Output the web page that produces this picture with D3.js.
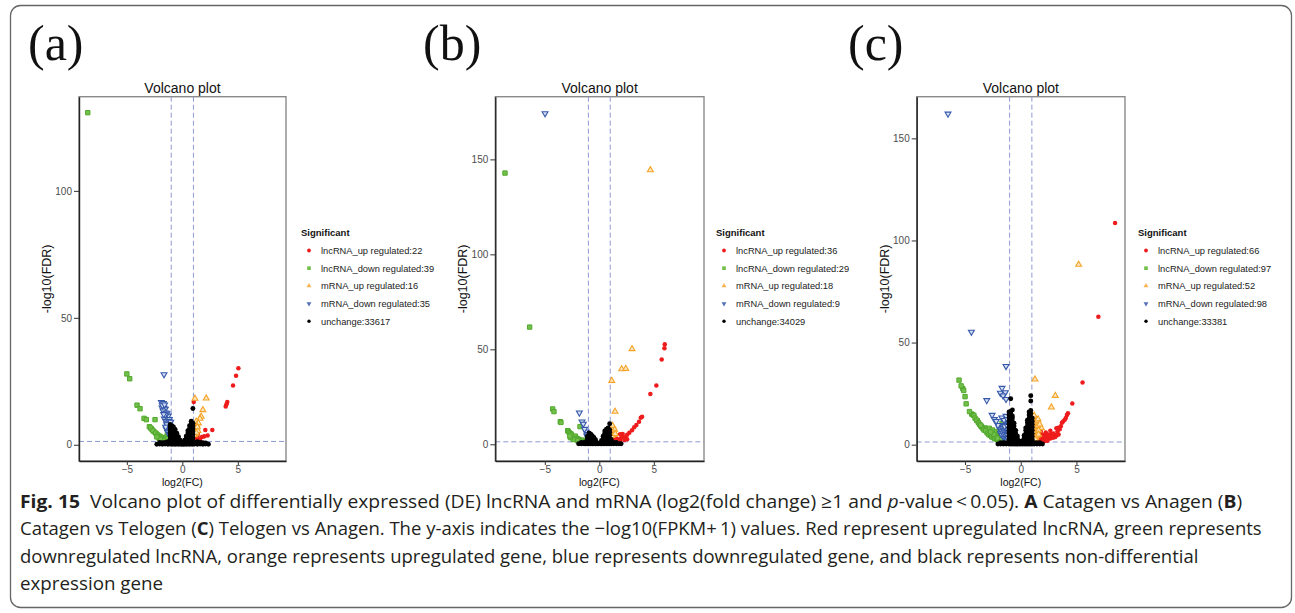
<!DOCTYPE html>
<html>
<head>
<meta charset="utf-8">
<script src="https://cdn.jsdelivr.net/npm/d3@7"></script>
<style>
  body { margin: 0; background: #fff; }
  svg { display: block; }
  text { font-family: "Liberation Sans", Arial, sans-serif; }
</style>
</head>
<body>
<div class="chart"></div>
<script>
// ---- data ----
var categories = ["lncRNA_up regulated", "lncRNA_down regulated", "mRNA_up regulated", "mRNA_down regulated", "unchange"];
var panelLetters = ["(a)", "(b)", "(c)"];
var countsA = [22, 39, 16, 35, 33617];
var countsB = [36, 29, 18, 9, 34029];
var countsC = [66, 97, 52, 98, 33381];

var xTicks = [-5, 0, 5];
var yTicksA = [0, 50, 100];
var yTicksB = [0, 50, 100, 150];
var yTicksC = [0, 50, 100, 150];
var xDomainA = [-9.31, 9.34], yDomainA = [-6.4, 137.1];
var xDomainB = [-9.54, 9.6], yDomainB = [-8.8, 183];
var xDomainC = [-9.34, 9.36], yDomainC = [-8.0, 170.4];
var fcCut = [-1, 1];
var fdrCut = 1.3;

// panel A (Catagen vs Anagen)
var aUp = [[5.05,30.1],[4.84,27.2],[4.57,23.3],[4.05,16.8],[3.91,15.1],[3.98,16.0],[1.03,16.8],[1.12,8.2],[2.70,5.8],[2.07,5.8],[2.28,3.6],[1.98,3.3],[1.77,3.1],[1.29,3.2],[1.5,2.5],[1.2,2.0],[1.1,4.5],[1.6,1.8],[1.35,1.6],[1.15,3.0],[1.4,4.0],[1.05,1.8]];
var aDown = [[-8.52,130.8],[-5.0,27.9],[-4.74,26.0],[-4.08,15.6],[-3.81,14.2],[-3.45,10.4],[-3.24,9.9],[-2.46,9.9],[-2.97,7.1],[-2.76,6.2],[-2.55,5.1],[-2.31,4.2],[-2.07,3.4],[-1.83,2.8],[-1.56,2.3],[-1.41,6.4],[-1.4,2.0],[-2.85,6.6],[-2.65,5.6],[-2.4,4.6],[-2.2,3.8],[-1.95,3.1],[-1.7,2.5],[-1.5,1.8],[-1.3,1.6],[-1.2,2.2],[-1.1,1.6],[-1.6,1.6],[-1.9,2.0],[-2.1,2.6],[-1.25,3.2],[-1.15,2.8],[-1.35,4.0],[-1.45,3.0],[-1.75,1.7],[-2.0,2.2],[-2.3,3.1],[-1.05,2.4],[-1.3,2.5]];
var aMUp = [[1.14,18.2],[2.15,18.3],[1.85,13.7],[1.70,11.1],[1.59,10.3],[1.25,9.2],[1.3,7.8],[1.17,6.8],[1.3,6.0],[1.12,5.1],[1.2,4.4],[1.45,8.5],[1.4,5.5],[1.1,3.8],[1.25,4.8],[1.35,7.0]];
var aMDown = [[-1.65,27.7],[-1.89,16.7],[-1.71,16.3],[-1.83,14.6],[-1.65,14.5],[-1.53,14.1],[-1.74,13.4],[-1.50,12.6],[-1.62,10.2],[-1.41,11.0],[-1.26,11.4],[-1.47,9.3],[-1.32,8.7],[-1.17,10.0],[-1.14,8.2],[-1.05,7.1],[-1.23,5.8],[-1.35,7.5],[-1.2,6.8],[-1.1,5.5],[-1.45,6.2],[-1.3,4.8],[-1.15,4.2],[-1.05,3.5],[-1.38,12.3],[-1.55,11.8],[-1.68,12.0],[-1.8,15.5],[-1.6,15.8],[-1.2,9.3],[-1.1,6.3],[-1.25,7.2],[-1.4,8.0],[-1.05,9.0],[-1.5,7.0]];
// unchanged genes: dense mass, listed as [log2FC, [-log10FDR values at that log2FC]]
var aUnchange = [
  [-2.3,[0.2]],[-2.05,[0.3,0.9]],[-1.8,[0.2,0.8]],[-1.55,[0.3,0.9]],[-1.3,[0.2,0.8,1.2]],
  [-1.1,[0.3,1.0,2.2,3.4,4.6,5.8,7.0,8.0]],[-0.95,[0.2,1.5,2.7,3.9,5.1,6.3,7.5]],[-0.8,[0.3,1.0,2.2,3.4,4.6,5.8,7.0]],
  [-0.65,[0.2,1.5,2.7,3.9,5.1,6.0]],[-0.5,[0.3,1.0,2.2,3.4,4.5]],[-0.35,[0.2,1.2,2.4,3.2]],[-0.2,[0.3,0.8,1.8]],[-0.05,[0.2,0.6]],
  [0.1,[0.2,0.7]],[0.2,[0.3,0.8,1.8]],[0.35,[0.2,1.2,2.4,3.4]],[0.5,[0.3,1.0,2.2,3.4,4.6,5.5]],
  [0.65,[0.2,1.5,2.7,3.9,5.1,6.3,7.5]],[0.8,[0.3,1.0,2.2,3.4,4.6,5.8,7.0,8.2,9.3]],[0.95,[0.2,1.5,2.7,3.9,5.1,6.3,7.5,8.5,14.3]],
  [1.1,[0.3,0.9]],[1.35,[0.2,0.8,1.2]],[1.6,[0.3,0.9]],[1.85,[0.2,0.8]],[2.1,[0.3,0.7]],[2.35,[0.2]]
];

// panel B (Catagen vs Telogen)
var bUp = [[6.0,52.6],[5.97,50.5],[5.72,44.7],[5.23,31.0],[4.68,26.5],[3.92,14.5],[3.8,14.0],[3.64,11.9],[3.4,10.2],[3.2,9.0],[3.0,7.4],[2.75,6.1],[2.55,5.0],[2.36,3.7],[2.14,5.4],[1.9,5.3],[2.1,3.9],[1.95,3.0],[1.75,2.5],[1.55,3.0],[1.35,2.2],[1.2,3.2],[1.07,4.0],[1.14,7.5],[1.1,2.0],[1.3,4.5],[1.5,1.8],[1.7,1.6],[1.25,1.5],[1.45,4.0],[1.6,2.4],[2.3,2.2],[1.05,5.5],[1.15,6.0],[1.9,1.9],[2.55,2.6]];
var bDown = [[-8.65,142.8],[-6.39,61.7],[-4.28,18.6],[-4.16,17.2],[-3.58,11.9],[-3.52,11.5],[-2.9,7.2],[-2.85,6.8],[-2.75,6.1],[-2.6,5.5],[-2.53,4.9],[-2.32,3.7],[-2.2,4.3],[-2.08,3.2],[-1.95,2.8],[-1.86,2.3],[-1.77,9.3],[-1.62,1.8],[-1.5,2.2],[-1.39,1.3],[-1.3,1.8],[-1.2,1.5],[-1.75,1.6],[-2.0,1.9],[-2.4,2.5],[-2.65,3.5],[-1.1,1.4],[-1.45,1.5],[-2.7,4.3]];
var bMUp = [[4.68,144.4],[3.0,50.2],[2.05,39.6],[2.42,39.8],[1.14,33.5],[1.44,17.2],[1.29,8.4],[1.16,7.5],[1.35,6.6],[1.2,5.8],[1.1,6.8],[1.25,9.3],[1.4,7.8],[1.05,8.8],[1.3,5.0],[1.15,4.5],[1.45,5.5],[1.2,9.8]];
var bMDown = [[-4.98,174.2],[-1.83,16.6],[-1.59,11.9],[-1.47,10.7],[-1.22,6.6],[-1.1,5.3],[-1.0,4.2],[-1.35,8.0],[-1.15,4.5]];
var bUnchange = [
  [-1.9,[0.3]],[-1.65,[0.3,1.0]],[-1.4,[0.3,1.0]],[-1.25,[0.3,1.0]],
  [-1.1,[0.3,1.0,2.6,4.2]],[-0.95,[0.3,1.5,3.1,4.7,6.0]],[-0.8,[0.3,1.0,2.6,4.2,5.5]],[-0.65,[0.3,1.5,3.1,4.5]],
  [-0.5,[0.3,1.0,2.6,3.6]],[-0.35,[0.3,1.2,2.4]],[-0.2,[0.3,0.8]],[-0.05,[0.3]],
  [0.1,[0.3]],[0.2,[0.3,0.8,2.0]],[0.35,[0.3,1.2,2.8,4.2]],[0.5,[0.3,1.0,2.6,4.2,5.8,7.0]],
  [0.65,[0.3,1.5,3.1,4.7,6.3,7.9]],[0.8,[0.3,1.0,2.6,4.2,5.8,7.4,8.6]],[0.95,[0.3,1.5,3.1,4.7,6.3,7.6,10.8]],
  [1.08,[0.3,1.0,2.6]],[1.3,[0.3,1.0]],[1.55,[0.3,1.0]],[1.8,[0.3]],[2.0,[0.3]]
];

// panel C (Telogen vs Anagen)
var cUp = [[8.47,108.5],[6.97,62.6],[5.55,30.4],[4.63,20.2],[4.24,15.4],[4.15,14.5],[3.8,11.3],[3.7,10.7],[3.38,8.3],[3.2,8.0],[2.66,6.8],[2.75,5.2],[2.45,5.0],[2.12,4.9],[1.9,4.8],[1.65,4.0],[1.4,4.5],[1.13,5.6],[1.2,3.5],
  [1.05,2.0],[1.15,1.6],[1.3,2.2],[1.45,1.8],[1.6,2.4],[1.75,2.0],[1.9,2.8],[2.05,2.3],[2.2,3.2],[2.35,2.6],[2.5,3.6],[2.65,3.0],[2.8,4.2],[2.95,5.5],[3.05,4.6],[3.3,6.5],[3.5,7.5],[3.6,9.0],[3.95,12.2],[4.05,13.0],
  [1.1,3.0],[1.25,4.2],[1.35,3.0],[1.5,3.6],[1.55,1.5],[1.7,3.2],[1.85,1.7],[2.0,3.8],[2.3,4.2],[2.6,4.5],[1.2,1.4],[1.4,1.4],[1.0,1.5],[1.1,4.0],[1.25,6.5],[1.05,7.0],[1.95,1.5],[2.15,1.8],[2.4,1.9],[2.9,3.4],[3.1,3.8],[3.4,5.0],[3.25,4.6],[1.6,5.5],[1.8,6.3],[2.25,6.0],[1.35,5.0]];
var cDown = [[-5.54,31.6],[-5.2,27.5],[-5.12,26.5],[-4.9,20.0],[-4.4,15.0],[-4.3,14.6],[-4.2,14.3],[-3.9,11.7],[-3.57,9.1],[-3.5,8.7],[-3.21,8.2],[-3.03,6.0],[-2.82,8.0],[-2.75,5.2],[-2.5,4.5],[-2.25,4.0],[-2.05,3.6],[-1.9,3.2],[-1.68,10.4],[-1.6,4.0],
  [-4.1,13.0],[-3.95,12.0],[-3.8,10.8],[-3.7,10.0],[-3.4,8.0],[-3.3,7.2],[-3.15,6.8],[-2.95,5.6],[-2.85,4.8],[-2.7,4.5],[-2.6,3.8],[-2.45,3.5],[-2.35,3.0],[-2.2,2.8],[-2.1,2.4],[-1.95,2.2],[-1.8,2.0],[-1.65,1.8],[-1.5,1.6],[-1.35,1.5],[-1.2,1.5],[-1.1,1.6],
  [-1.85,4.5],[-1.7,5.5],[-1.55,6.0],[-1.45,5.0],[-1.35,4.2],[-1.25,3.5],[-1.15,2.8],[-1.4,2.6],[-1.6,3.0],[-1.75,3.5],[-2.0,4.8],[-2.15,5.6],[-2.3,6.5],[-2.55,7.2],[-1.3,6.8],[-1.2,5.8],[-1.1,4.2],[-1.5,8.5],[-1.9,6.0],[-2.4,5.0],[-2.7,6.2],[-3.6,9.5],[-4.6,16.2],[-5.0,23.5],[-5.35,28.8],[-1.05,2.2],[-1.25,2.0],[-1.8,2.8],[-2.1,3.2]];
var cMUp = [[5.2,88.2],[1.28,32.0],[3.1,24.0],[2.75,18.3],[1.85,8.2],[1.22,13.4],[1.1,12.8],[1.3,12.2],[1.05,11.5],[1.18,11.0],[1.4,10.5],[1.25,9.8],[1.1,9.0],[1.35,8.5],[1.5,9.2],[1.2,7.8],[1.05,7.0],[1.3,6.5],[1.15,5.8],[1.4,6.0],[1.1,4.8],[1.25,4.0],[1.05,3.2],[1.35,3.5],[1.6,7.0],[1.45,11.8],[1.55,12.5],[1.02,13.8],[1.2,14.3],[1.15,2.6],[1.7,10.0],[1.3,2.8],[1.0,5.5],[1.45,4.5],[1.12,6.3],[1.6,5.0]];
var cMDown = [[-6.53,162.0],[-4.43,55.2],[-1.32,38.4],[-1.68,27.7],[-1.83,25.3],[-1.38,25.6],[-1.59,24.0],[-1.32,22.3],[-3.05,21.7],[-2.57,14.5],[-2.37,12.4],[-1.7,13.2],[-1.32,14.0],[-1.95,8.3],[-1.26,10.1],[-1.14,10.8],
  [-1.85,7.5],[-1.75,6.8],[-1.65,8.0],[-1.55,7.2],[-1.45,6.5],[-1.35,7.8],[-1.25,6.0],[-1.15,7.2],[-1.05,8.2],[-1.8,5.5],[-1.7,4.8],[-1.6,5.8],[-1.5,4.5],[-1.4,5.2],[-1.3,4.0],[-1.2,4.6],[-1.1,3.8],[-1.05,5.4],[-1.5,3.2],[-1.35,2.5],[-1.2,2.8],[-1.1,2.2],[-1.6,9.5],[-1.45,9.0],[-1.2,9.2],[-1.1,11.5],[-1.5,12.0],[-2.05,9.5],[-2.2,11.5],[-1.2,12.5],[-1.15,3.0],[-1.25,1.9]];
var cUnchange = [
  [-2.05,[0.3]],[-1.8,[0.3,1.0]],[-1.55,[0.3,1.0]],[-1.3,[0.3,1.0]],
  [-1.05,[0.3,1.0,2.5,4.0,5.5,7.0,8.5,10.0,11.5,13.0,14.5,16.0]],[-0.9,[0.3,1.7,3.2,4.7,6.2,7.7,9.2,10.7,12.2,13.7,15.2,16.2,22.5]],
  [-0.75,[0.3,1.0,2.5,4.0,5.5,7.0,8.5,10.0,11.5,13.0,14.0,17.0]],[-0.6,[0.3,1.7,3.2,4.7,6.2,7.7,9.2,10.5]],
  [-0.45,[0.3,1.0,2.5,4.0,5.5,7.0]],[-0.3,[0.3,1.5,3.0,4.2]],[-0.15,[0.3,0.8,1.8]],[0.0,[0.3]],
  [0.15,[0.3,0.8,1.8]],[0.3,[0.3,1.5,3.0,4.5]],[0.45,[0.3,1.0,2.5,4.0,5.5,7.0,8.2]],
  [0.6,[0.3,1.7,3.2,4.7,6.2,7.7,9.2,10.7,12.0]],[0.75,[0.3,1.0,2.5,4.0,5.5,7.0,8.5,10.0,11.5,13.0,14.5,16.0]],
  [0.9,[0.3,1.7,3.2,4.7,6.2,7.7,9.2,10.7,12.2,13.7,15.2,16.7,21.4,24.0]],[1.03,[0.3,1.0,2.5,4.0,5.5,7.0,8.5,10.0,11.5,13.0]],
  [1.2,[0.3,1.0]],[1.45,[0.3,1.0]],[1.7,[0.3,0.9]],[1.95,[0.3]]
];

var captionLines = [
  [["Fig. 15", "b"], ["  Volcano plot of differentially expressed (DE) lncRNA and mRNA (log2(fold change) \u22651 and "], ["p", "i"], ["-value\u2009<\u20090.05). "], ["A", "b"], [" Catagen vs Anagen ("], ["B", "b"], [")"]],
  [["Catagen vs Telogen ("], ["C", "b"], [") Telogen vs Anagen. The y-axis indicates the \u2212log10(FPKM+\u20091) values. Red represent upregulated lncRNA, green represents"]],
  [["downregulated lncRNA, orange represents upregulated gene, blue represents downregulated gene, and black represents non-differential"]],
  [["expression gene"]]
];

// ---- layout ----
var svgWidth = 1295;
var svgHeight = 613;
var plotTop = 96.7, plotBottom = 461;

var svg = d3.select(".chart")
  .append("svg")
  .attr("width", svgWidth)
  .attr("height", svgHeight);

svg.append("rect")
  .attr("x", 10.5).attr("y", 5.5)
  .attr("width", 1281).attr("height", 602)
  .attr("rx", 10)
  .attr("fill", "none")
  .attr("stroke", "#666")
  .attr("stroke-width", 1.3);

var seriesStyle = [
  { type: d3.symbolCircle, size: 16, fill: "#ee1c1c", stroke: "none", sw: 0, rot: 0 },
  { type: d3.symbolSquare, size: 19, fill: "#72c04a", stroke: "#52a82e", sw: 1, rot: 0 },
  { type: d3.symbolTriangle, size: 15, fill: "#fde6bf", stroke: "#f5a428", sw: 1.1, rot: 0 },
  { type: d3.symbolTriangle, size: 15, fill: "#d5def2", stroke: "#3558aa", sw: 1.1, rot: 180 },
  { type: d3.symbolCircle, size: 19, fill: "#000", stroke: "none", sw: 0, rot: 0 }
];

function drawPanel(p) {
  var g = svg.append("g");
  var x = d3.scaleLinear().domain(p.xDomain).range([p.left, p.right]);
  var y = d3.scaleLinear().domain(p.yDomain).range([plotBottom, plotTop]);

  // panel letter
  svg.append("text")
    .attr("x", p.labelX).attr("y", 60)
    .style("font-family", "'Liberation Serif', 'Times New Roman', serif")
    .style("font-size", "50px")
    .attr("fill", "#111")
    .text(p.letter);

  // title
  g.append("text")
    .attr("x", (p.left + p.right) / 2).attr("y", 93)
    .attr("text-anchor", "middle")
    .style("font-size", "14px")
    .attr("fill", "#111")
    .text("Volcano plot");

  // panel border
  g.append("rect")
    .attr("x", p.left).attr("y", plotTop)
    .attr("width", p.right - p.left).attr("height", plotBottom - plotTop)
    .attr("fill", "none").attr("stroke", "#8a8a8a").attr("stroke-width", 1.4);

  // threshold lines
  fcCut.forEach(function (v) {
    g.append("line")
      .attr("x1", x(v)).attr("x2", x(v))
      .attr("y1", plotTop).attr("y2", plotBottom)
      .attr("stroke", "#8c9ad0").attr("stroke-width", 1).attr("stroke-dasharray", "5,3");
  });
  g.append("line")
    .attr("x1", p.left).attr("x2", p.right)
    .attr("y1", y(fdrCut)).attr("y2", y(fdrCut))
    .attr("stroke", "#8c9ad0").attr("stroke-width", 1).attr("stroke-dasharray", "5,3");

  // points, black drawn last
  p.series.forEach(function (pts, i) {
    var st = seriesStyle[i];
    var path = d3.symbol().type(st.type).size(st.size)();
    g.append("g").selectAll("path")
      .data(pts)
      .enter()
      .append("path")
      .attr("d", path)
      .attr("transform", d => `translate(${x(d[0])},${y(d[1])}) rotate(${st.rot})`)
      .attr("fill", st.fill)
      .attr("stroke", st.stroke)
      .attr("stroke-width", st.sw);
  });

  // axes
  var leftAxis = d3.axisLeft(y).tickValues(p.yTicks).tickSizeInner(5).tickSizeOuter(0).tickPadding(2);
  var bottomAxis = d3.axisBottom(x).tickValues(xTicks).tickSizeInner(4).tickSizeOuter(0).tickPadding(1);
  var ya = g.append("g").attr("transform", `translate(${p.left},0)`).call(leftAxis);
  var xa = g.append("g").attr("transform", `translate(0,${plotBottom})`).call(bottomAxis);
  [ya, xa].forEach(function (a) {
    a.select(".domain").attr("stroke", "#222").attr("stroke-width", 1.4);
    a.selectAll(".tick line").attr("stroke", "#333");
    a.selectAll(".tick text").style("font-size", "10px").attr("fill", "#4d4d4d");
  });

  // axis titles
  g.append("text")
    .attr("transform", `translate(${p.left - 28},${(plotTop + plotBottom) / 2}) rotate(-90)`)
    .attr("text-anchor", "middle")
    .style("font-size", "12.5px")
    .attr("fill", "#111")
    .text("-log10(FDR)");
  g.append("text")
    .attr("x", x(0)).attr("y", 486)
    .attr("text-anchor", "middle")
    .style("font-size", "10.5px")
    .attr("fill", "#111")
    .text("log2(FC)");

  // legend
  var lg = g.append("g");
  lg.append("text")
    .attr("x", p.legendX).attr("y", 236)
    .style("font-size", "9.5px").style("font-weight", "bold")
    .attr("fill", "#111")
    .text("Significant");
  categories.forEach(function (c, i) {
    var st = seriesStyle[i];
    var yy = 250.5 + i * 17.7;
    lg.append("path")
      .attr("d", d3.symbol().type(st.type).size(i == 4 ? 9 : st.size * 0.7)())
      .attr("transform", `translate(${p.legendX + 8},${yy}) rotate(${st.rot})`)
      .attr("fill", i == 2 ? "#f7b453" : i == 3 ? "#5570b8" : st.fill)
      .attr("stroke", "none");
    lg.append("text")
      .attr("x", p.legendX + 20).attr("y", yy + 3.3)
      .style("font-size", "9.3px")
      .attr("fill", "#222")
      .text(c + ":" + p.counts[i]);
  });
}

function flatCols(cols) {
  return cols.flatMap(c => c[1].map(v => [c[0], v]));
}

drawPanel({ letter: panelLetters[0], left: 79, right: 286, labelX: 28, legendX: 301,
  xDomain: xDomainA, yDomain: yDomainA, yTicks: yTicksA, counts: countsA,
  series: [aUp, aDown, aMUp, aMDown, flatCols(aUnchange)] });
drawPanel({ letter: panelLetters[1], left: 495.3, right: 704, labelX: 423, legendX: 716,
  xDomain: xDomainB, yDomain: yDomainB, yTicks: yTicksB, counts: countsB,
  series: [bUp, bDown, bMUp, bMDown, flatCols(bUnchange)] });
drawPanel({ letter: panelLetters[2], left: 916.7, right: 1125, labelX: 848, legendX: 1138,
  xDomain: xDomainC, yDomain: yDomainC, yTicks: yTicksC, counts: countsC,
  series: [cUp, cDown, cMUp, cMDown, flatCols(cUnchange)] });

// caption, each line squeezed to the width it has in the figure
var capBaselines = [508, 535, 562.5, 590];
var capWidths = [1223, 1242, 1179, null];
var scales = [];
captionLines.forEach(function (segs, li) {
  var t = svg.append("text")
    .attr("x", 0).attr("y", 0)
    .style("font-family", "'Open Sans', 'Noto Sans', sans-serif")
    .style("font-size", "18.5px")
    .attr("fill", "#231f20")
    .attr("xml:space", "preserve")
    .style("white-space", "pre");
  segs.forEach(function (s) {
    var ts = t.append("tspan").text(s[0]);
    if (s[1] == "b") ts.style("font-weight", "bold");
    if (s[1] == "i") ts.style("font-style", "italic");
  });
  var w = t.node().getComputedTextLength();
  var k = capWidths[li] ? capWidths[li] / w : d3.mean(scales);
  scales.push(k);
  t.attr("transform", `translate(20,${capBaselines[li]}) scale(${k},1)`);
});
</script>
</body>
</html>
